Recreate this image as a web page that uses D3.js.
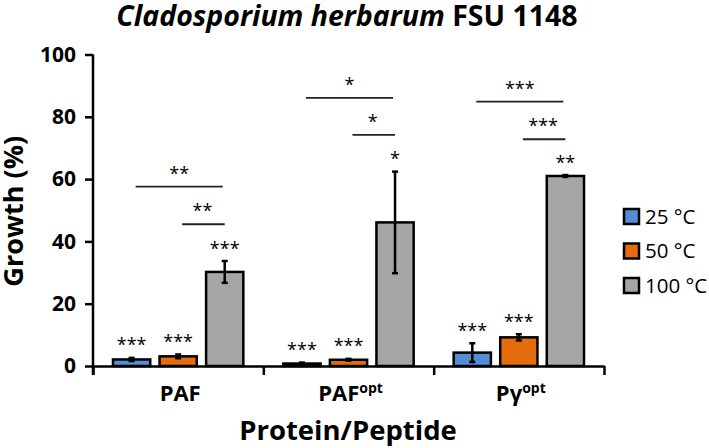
<!DOCTYPE html>
<html>
<head>
<meta charset="utf-8">
<script src="https://cdn.jsdelivr.net/npm/d3@7"></script>
<style>
  body { margin: 0; background: #fff; }
  text { font-family: "Open Sans", sans-serif; fill: #000; }
</style>
</head>
<body>
<script>
// data
var categories = ["PAF", "PAFopt", "Pγopt"];
var series = ["25 °C", "50 °C", "100 °C"];
var colors = ["#558ed5", "#e46c0a", "#a6a6a6"];
var growth = [
  [2.1, 0.8, 4.3],     // 25 °C
  [3.1, 2.0, 9.2],     // 50 °C
  [30.2, 46.1, 61.0]   // 100 °C
];
var errors = [
  [0.5, 0.3, 3.0],
  [0.6, 0.3, 1.0],
  [3.5, 16.3, 0.3]
];
var barStars = [
  ["***", "***", "***"],
  ["***", "***", "***"],
  ["***", "*", "**"]
];
// significance brackets: category, from series, to series, height (%), label
var brackets = [
  {cat: 0, from: 0, to: 2, level: 57.6, label: "**"},
  {cat: 0, from: 1, to: 2, level: 45.5, label: "**"},
  {cat: 1, from: 0, to: 2, level: 86.1, label: "*"},
  {cat: 1, from: 1, to: 2, level: 74.2, label: "*"},
  {cat: 2, from: 0, to: 2, level: 84.9, label: "***"},
  {cat: 2, from: 1, to: 2, level: 72.8, label: "***"}
];
var yTicks = [0, 20, 40, 60, 80, 100];

var width = 709, height = 448;
var margin = {top: 54.5, left: 93, right: 105, bottom: 82};

var svg = d3.select("body").append("svg")
    .attr("width", width)
    .attr("height", height);

var y = d3.scaleLinear()
    .domain([0, 100])
    .range([height - margin.bottom, margin.top]);

var x0 = d3.scaleBand()
    .domain(categories)
    .range([margin.left, width - margin.right]);

var x1 = d3.scaleBand()
    .domain(series)
    .range([20, x0.bandwidth() - 20])
    .paddingInner(0.2);

var xEdge = d3.scaleLinear()
    .domain([0, categories.length])
    .range(x0.range());

function cx(c, s) { return x0(categories[c]) + x1(series[s]) + x1.bandwidth() / 2; }

// title
var title = svg.append("text")
    .attr("x", 347)
    .attr("y", 26)
    .attr("text-anchor", "middle")
    .attr("font-size", "28.5px")
    .attr("font-weight", 700);
title.append("tspan").attr("font-style", "italic").text("Cladosporium herbarum ");
title.append("tspan").text("FSU 1148");

// bars
series.forEach(function(s, si) {
  var g = svg.append("g");
  g.selectAll("rect")
      .data(categories)
    .enter().append("rect")
      .attr("x", function(d) { return x0(d) + x1(s); })
      .attr("y", function(d, ci) { return y(growth[si][ci]); })
      .attr("width", x1.bandwidth())
      .attr("height", function(d, ci) { return y(0) - y(growth[si][ci]); })
      .attr("fill", colors[si])
      .attr("stroke", "#000")
      .attr("stroke-width", 2.5);

  // error bars
  var eb = g.selectAll(".err")
      .data(categories)
    .enter().append("g");
  eb.append("line")
      .attr("x1", function(d, ci) { return cx(ci, si); })
      .attr("x2", function(d, ci) { return cx(ci, si); })
      .attr("y1", function(d, ci) { return y(growth[si][ci] - errors[si][ci]); })
      .attr("y2", function(d, ci) { return y(growth[si][ci] + errors[si][ci]); })
      .attr("stroke", "#000").attr("stroke-width", 2.5);
  [-1, 1].forEach(function(sign) {
    eb.append("line")
        .attr("x1", function(d, ci) { return cx(ci, si) - 3; })
        .attr("x2", function(d, ci) { return cx(ci, si) + 3; })
        .attr("y1", function(d, ci) { return y(growth[si][ci] + sign * errors[si][ci]); })
        .attr("y2", function(d, ci) { return y(growth[si][ci] + sign * errors[si][ci]); })
        .attr("stroke", "#000").attr("stroke-width", 2.5);
  });

  // stars over bars
  g.selectAll(".star")
      .data(categories)
    .enter().append("text")
      .attr("x", function(d, ci) { return cx(ci, si); })
      .attr("y", function(d, ci) { return y(growth[si][ci] + errors[si][ci]) - 17 + 10.5; })
      .attr("text-anchor", "middle")
      .attr("font-size", "18px")
      .attr("fill", "#222")
      .text(function(d, ci) { return barStars[si][ci]; });
});

// significance brackets
var br = svg.append("g").selectAll("g")
    .data(brackets)
  .enter().append("g");
br.append("line")
    .attr("x1", function(d) { return cx(d.cat, d.from) + 4; })
    .attr("x2", function(d) { return cx(d.cat, d.to) - (d.from === 0 ? 2 : 0); })
    .attr("y1", function(d) { return y(d.level); })
    .attr("y2", function(d) { return y(d.level); })
    .attr("stroke", "#222")
    .attr("stroke-width", 1.8);
br.append("text")
    .attr("x", function(d) { return (cx(d.cat, d.from) + cx(d.cat, d.to)) / 2 + 1; })
    .attr("y", function(d) { return y(d.level) - 17.5 + 10.5; })
    .attr("text-anchor", "middle")
    .attr("font-size", "18px")
    .attr("fill", "#222")
    .text(function(d) { return d.label; });

// y axis
var yAxis = svg.append("g")
    .attr("transform", "translate(" + margin.left + ",0)")
    .call(d3.axisLeft(y).tickValues(yTicks).tickSize(8).tickPadding(9).tickSizeOuter(0));
yAxis.select(".domain").attr("stroke-width", 2.5).attr("d", "M0," + y(100) + "V" + (y(0) + 9));
yAxis.selectAll(".tick line").attr("stroke-width", 2.5);
yAxis.selectAll(".tick text")
    .attr("font-family", "Open Sans")
    .attr("font-size", "21px")
    .attr("font-weight", 700)
    .attr("fill", "#000");

// x axis (tick marks at group edges)
var xAxis = svg.append("g")
    .attr("transform", "translate(0," + y(0) + ")")
    .call(d3.axisBottom(xEdge).tickValues(d3.range(categories.length + 1)).tickSize(9).tickSizeOuter(0).tickFormat(""));
xAxis.select(".domain").attr("stroke-width", 2.5);
xAxis.selectAll(".tick line").attr("stroke-width", 2.5);

// category labels with superscripts
var catLabels = svg.append("g").selectAll("text")
    .data(categories)
  .enter().append("text")
    .attr("x", function(d) { return x0(d) + x0.bandwidth() / 2 + 2; })
    .attr("y", 401)
    .attr("text-anchor", "middle")
    .attr("font-size", "22px")
    .attr("font-weight", 700);
catLabels.append("tspan").text(function(d) { return d.replace("opt", ""); });
catLabels.filter(function(d) { return d.indexOf("opt") >= 0; })
  .append("tspan")
    .attr("font-size", "14px")
    .attr("dy", -8)
    .text("opt");

// axis titles
svg.append("text")
    .attr("x", 348)
    .attr("y", 440)
    .attr("text-anchor", "middle")
    .attr("font-size", "27.5px")
    .attr("font-weight", 700)
    .text("Protein/Peptide");

svg.append("text")
    .attr("transform", "translate(23," + ((y(0) + y(100)) / 2 + 1) + ") rotate(-90)")
    .attr("text-anchor", "middle")
    .attr("font-size", "27px")
    .attr("font-weight", 700)
    .text("Growth (%)");

// legend
var legend = svg.append("g").selectAll("g")
    .data(series)
  .enter().append("g")
    .attr("transform", function(d, i) { return "translate(624," + (209 + i * 34.5) + ")"; });
legend.append("rect")
    .attr("width", 15)
    .attr("height", 15)
    .attr("fill", function(d, i) { return colors[i]; })
    .attr("stroke", "#000")
    .attr("stroke-width", 2.5);
legend.append("text")
    .attr("x", 21)
    .attr("y", 14.5)
    .attr("font-size", "20.5px")
    .text(function(d) { return d; });
</script>
</body>
</html>
